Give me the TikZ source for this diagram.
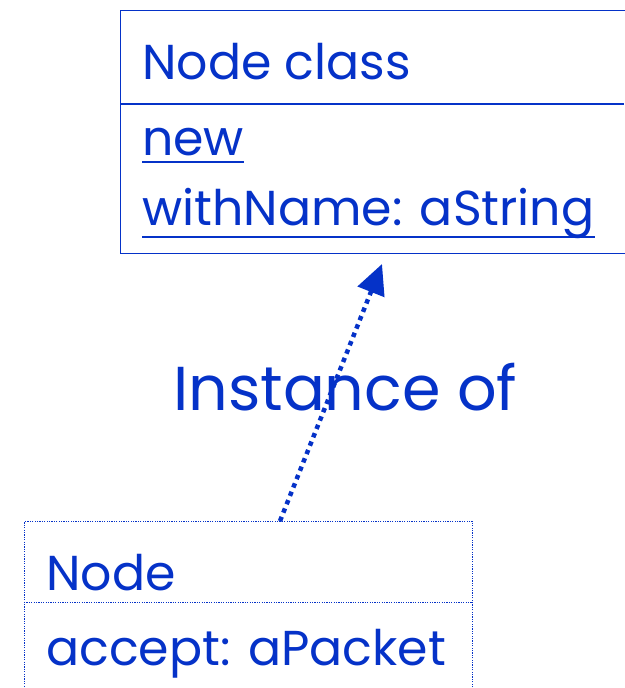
\documentclass[tikz,border=0pt]{standalone}
\usepackage{fontspec}
\setmainfont{Poppins}
\usepackage{tikz}
\usetikzlibrary{arrows.meta, positioning, calc}
\definecolor{UMLBlue}{RGB}{5, 50, 200}

\tikzset{
  umltext/.style={anchor=base west, inner sep=0pt, text=UMLBlue,
    font=\fontsize{49}{52}\selectfont},
  classbox/.style={draw=UMLBlue, line width=1.3pt, anchor=north west, inner sep=0pt},
  objbox/.style={draw=UMLBlue, line width=1pt, dash pattern=on 1.2pt off 1.2pt,
    anchor=north west, inner sep=0pt},
  underl/.style={draw=UMLBlue, line width=2.6pt},
  instanceof/.style={draw=UMLBlue, line width=4.5pt, dash pattern=on 4.5pt off 4.5pt,
    -{Triangle[length=30pt, width=28pt, fill=UMLBlue]}}
}

\begin{document}
\begin{tikzpicture}[x=1pt, y=-1pt]
  \useasboundingbox (0,0) rectangle (624,688);

  % the class box, cut by the right edge
  \node[classbox, minimum width=540pt, minimum height=243pt] (cls) at (120,10) {};
  \draw[UMLBlue, line width=1.3pt] (120,104) -- (624,104);
  \node[umltext] (clsname) at (142,79) {Node class};
  \node[umltext] (mnew) at (142,155) {new};
  \node[umltext] (mwith) at (142,225) {withName: aString};
  \draw[underl] ([yshift=-7pt]mnew.base west) -- ([yshift=-7pt]mnew.base east);
  \draw[underl] ([yshift=-12pt]mwith.base west) -- ([yshift=-12pt]mwith.base east);

  % the instance box, cut by the bottom edge
  \node[objbox, minimum width=448pt, minimum height=200pt] (obj) at (24,521) {};
  \draw[UMLBlue, line width=1pt, dash pattern=on 1.2pt off 1.2pt] (24,602) -- (472,602);
  \node[umltext] (objname) at (46,590) {Node};
  \node[umltext] (maccept) at (46,665) {accept: aPacket};

  % instance-of link
  \coordinate (linkfrom) at (280,521);
  \coordinate (linkto) at (382,264);
  \draw[instanceof] (linkfrom) -- (linkto);
  \node[umltext, font=\fontsize{62}{66}\selectfont] (inst) at (173,410) {Instance of};
\end{tikzpicture}
\end{document}
